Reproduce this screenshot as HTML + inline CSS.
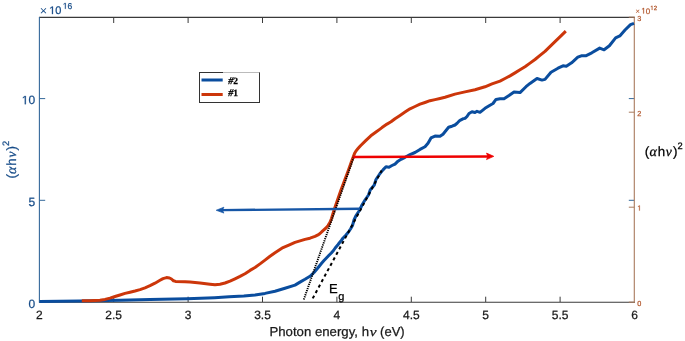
<!DOCTYPE html>
<html><head><meta charset="utf-8"><style>
html,body{margin:0;padding:0;background:#fff;}
svg{display:block;font-family:"Liberation Sans",sans-serif;will-change:transform;text-rendering:geometricPrecision;filter:blur(0.3px);}
</style></head><body>
<svg width="685" height="341" viewBox="0 0 685 341">
<rect width="685" height="341" fill="#fff"/>
<line x1="39" y1="17.4" x2="635" y2="17.4" stroke="#3a3a3a" stroke-width="1.1"/>
<line x1="39" y1="302.3" x2="635" y2="302.3" stroke="#3a3a3a" stroke-width="1.1"/>
<text x="39.3" y="319.4" font-size="12" text-anchor="middle" fill="#1a1a1a" stroke="#1a1a1a" stroke-width="0.25">2</text>
<line x1="113.70" y1="302" x2="113.70" y2="296.7" stroke="#3a3a3a" stroke-width="1"/>
<line x1="113.70" y1="17.8" x2="113.70" y2="23" stroke="#3a3a3a" stroke-width="1"/>
<text x="113.7" y="319.4" font-size="12" text-anchor="middle" fill="#1a1a1a" stroke="#1a1a1a" stroke-width="0.25">2.5</text>
<line x1="188.10" y1="302" x2="188.10" y2="296.7" stroke="#3a3a3a" stroke-width="1"/>
<line x1="188.10" y1="17.8" x2="188.10" y2="23" stroke="#3a3a3a" stroke-width="1"/>
<text x="188.1" y="319.4" font-size="12" text-anchor="middle" fill="#1a1a1a" stroke="#1a1a1a" stroke-width="0.25">3</text>
<line x1="262.50" y1="302" x2="262.50" y2="296.7" stroke="#3a3a3a" stroke-width="1"/>
<line x1="262.50" y1="17.8" x2="262.50" y2="23" stroke="#3a3a3a" stroke-width="1"/>
<text x="262.5" y="319.4" font-size="12" text-anchor="middle" fill="#1a1a1a" stroke="#1a1a1a" stroke-width="0.25">3.5</text>
<line x1="336.90" y1="302" x2="336.90" y2="296.7" stroke="#3a3a3a" stroke-width="1"/>
<line x1="336.90" y1="17.8" x2="336.90" y2="23" stroke="#3a3a3a" stroke-width="1"/>
<text x="336.9" y="319.4" font-size="12" text-anchor="middle" fill="#1a1a1a" stroke="#1a1a1a" stroke-width="0.25">4</text>
<line x1="411.30" y1="302" x2="411.30" y2="296.7" stroke="#3a3a3a" stroke-width="1"/>
<line x1="411.30" y1="17.8" x2="411.30" y2="23" stroke="#3a3a3a" stroke-width="1"/>
<text x="411.3" y="319.4" font-size="12" text-anchor="middle" fill="#1a1a1a" stroke="#1a1a1a" stroke-width="0.25">4.5</text>
<line x1="485.70" y1="302" x2="485.70" y2="296.7" stroke="#3a3a3a" stroke-width="1"/>
<line x1="485.70" y1="17.8" x2="485.70" y2="23" stroke="#3a3a3a" stroke-width="1"/>
<text x="485.7" y="319.4" font-size="12" text-anchor="middle" fill="#1a1a1a" stroke="#1a1a1a" stroke-width="0.25">5</text>
<line x1="560.10" y1="302" x2="560.10" y2="296.7" stroke="#3a3a3a" stroke-width="1"/>
<line x1="560.10" y1="17.8" x2="560.10" y2="23" stroke="#3a3a3a" stroke-width="1"/>
<text x="560.1" y="319.4" font-size="12" text-anchor="middle" fill="#1a1a1a" stroke="#1a1a1a" stroke-width="0.25">5.5</text>
<text x="634.5" y="319.4" font-size="12" text-anchor="middle" fill="#1a1a1a" stroke="#1a1a1a" stroke-width="0.25">6</text>
<line x1="39.4" y1="17" x2="39.4" y2="302.8" stroke="#34689a" stroke-width="1.1"/>
<text x="28.43" y="307.60" font-size="12" fill="#174c88" stroke="#174c88" stroke-width="0.25">0</text>
<line x1="39.5" y1="200.30" x2="45.2" y2="200.30" stroke="#34689a" stroke-width="1"/>
<line x1="628.8" y1="200.30" x2="634.3" y2="200.30" stroke="#34689a" stroke-width="1"/>
<text x="28.43" y="205.90" font-size="12" fill="#174c88" stroke="#174c88" stroke-width="0.25">5</text>
<line x1="39.5" y1="98.60" x2="45.2" y2="98.60" stroke="#34689a" stroke-width="1"/>
<line x1="628.8" y1="98.60" x2="634.3" y2="98.60" stroke="#34689a" stroke-width="1"/>
<path transform="translate(21.76,104.20) scale(0.00586,-0.00586)" d="M515,0 L515,1237 L197,1010 L197,1180 L530,1409 L696,1409 L696,0 Z" fill="#174c88" stroke="#174c88" stroke-width="42.7"/><text x="28.43" y="104.20" font-size="12" fill="#174c88" stroke="#174c88" stroke-width="0.25">0</text>
<line x1="634.3" y1="17" x2="634.3" y2="302.8" stroke="#a97a5e" stroke-width="1.1"/>
<line x1="628.8" y1="302.20" x2="634.3" y2="302.20" stroke="#a97a5e" stroke-width="1"/>
<text x="637.30" y="305.60" font-size="7.3" fill="#b45a30" stroke="#b45a30" stroke-width="0.25">0</text>
<line x1="628.8" y1="207.20" x2="634.3" y2="207.20" stroke="#a97a5e" stroke-width="1"/>
<path transform="translate(637.30,210.60) scale(0.00356,-0.00356)" d="M515,0 L515,1237 L197,1010 L197,1180 L530,1409 L696,1409 L696,0 Z" fill="#b45a30" stroke="#b45a30" stroke-width="70.1"/>
<line x1="628.8" y1="112.20" x2="634.3" y2="112.20" stroke="#a97a5e" stroke-width="1"/>
<text x="637.30" y="115.60" font-size="7.3" fill="#b45a30" stroke="#b45a30" stroke-width="0.25">2</text>
<line x1="628.8" y1="17.20" x2="634.3" y2="17.20" stroke="#a97a5e" stroke-width="1"/>
<text x="637.30" y="20.60" font-size="7.3" fill="#b45a30" stroke="#b45a30" stroke-width="0.25">3</text>
<polyline points="39.5,301.4 80.0,301.0 120.0,300.3 150.0,299.6 187.0,298.8 214.6,297.7 229.2,296.8 243.8,295.9 255.0,294.9 265.0,293.4 275.0,291.2 285.0,288.2 295.0,285.1 300.0,282.1 305.0,279.3 310.0,276.3 314.0,272.5 317.6,268.2 321.6,263.2 324.0,260.5 326.4,258.0 329.0,255.3 331.3,253.0 333.5,250.5 335.2,248.0 337.5,245.3 339.2,243.0 341.3,240.5 343.1,238.0 346.0,235.0 348.5,232.0 350.5,229.0 352.5,225.5 354.0,220.0 356.1,215.5 359.7,210.0 362.0,205.0 365.0,200.0 368.5,195.0 370.2,190.0 374.3,185.0 376.0,179.5 380.0,173.5 383.0,169.9 386.0,166.8 389.0,167.2 392.0,165.5 395.0,164.1 398.0,161.2 401.0,159.3 405.0,157.3 410.0,154.6 415.0,152.5 420.0,149.4 425.0,146.7 428.0,143.2 431.0,137.9 435.0,136.1 440.0,136.3 443.0,134.2 446.0,130.5 448.6,127.3 452.0,126.2 455.0,125.0 457.5,122.8 460.0,120.3 463.0,118.8 465.0,118.4 467.0,116.5 469.0,113.5 472.0,111.8 475.0,112.5 477.0,111.3 480.0,112.3 485.0,108.3 490.0,105.2 493.0,103.5 496.0,99.4 500.0,98.8 504.0,98.8 509.0,95.6 514.0,92.1 520.0,92.6 526.0,86.7 530.0,83.4 537.0,78.5 542.0,80.1 545.0,79.4 551.0,72.2 558.0,68.2 563.0,65.8 566.3,66.3 571.6,62.8 577.8,57.2 581.3,55.8 585.7,55.8 591.8,52.8 599.7,48.1 604.1,49.8 609.4,45.8 615.6,37.9 619.8,35.9 625.0,30.0 630.5,24.6 634.0,23.3" fill="none" stroke="#0a4d9e" stroke-width="3.0" stroke-linejoin="round" stroke-linecap="butt"/>
<polyline points="81.8,300.8 90.0,300.8 100.0,300.3 105.0,299.4 110.0,298.1 115.0,296.5 120.0,295.0 125.0,293.4 130.0,292.2 135.0,291.0 140.0,289.6 145.0,287.8 150.0,285.7 155.0,283.2 160.0,280.3 163.0,278.6 166.5,277.6 169.5,278.0 171.5,279.0 173.5,280.8 175.5,281.4 185.0,281.7 190.0,282.1 200.0,282.9 210.0,284.2 215.0,284.8 220.0,284.2 225.0,283.0 230.0,281.1 235.0,278.8 240.0,276.4 245.0,273.7 250.0,270.4 255.0,267.5 260.0,263.9 265.0,260.1 270.0,256.3 275.0,252.8 283.0,247.6 290.0,244.6 295.0,242.4 300.0,240.9 305.0,239.4 310.0,238.2 315.0,236.4 318.0,234.9 320.0,233.5 323.0,230.6 326.0,228.0 328.0,225.6 330.0,222.3 331.5,218.5 334.4,209.0 340.8,190.5 348.5,170.0 351.5,161.5 353.4,156.5 354.8,152.9 356.0,150.9 358.0,148.6 360.5,145.7 365.7,140.6 370.8,135.8 376.0,132.0 380.0,129.1 382.0,127.6 387.0,124.1 391.0,121.8 395.0,118.7 400.0,115.4 405.0,112.1 410.0,108.8 415.0,106.5 420.0,104.2 425.0,102.5 430.0,100.7 435.0,99.6 440.0,98.5 445.0,97.3 455.0,94.1 465.0,91.9 475.0,89.7 485.0,86.8 492.0,83.9 500.0,81.1 505.0,78.5 510.0,75.9 515.0,72.9 520.0,69.8 525.0,66.7 530.0,63.1 535.0,59.5 540.0,55.4 545.0,51.4 551.4,45.2 560.2,36.7 565.8,31.1" fill="none" stroke="#cc360a" stroke-width="3.0" stroke-linejoin="round" stroke-linecap="butt"/>
<line x1="303.8" y1="299.5" x2="354.2" y2="156" stroke="#000" stroke-width="1.9" stroke-dasharray="1.25 0.95"/>
<line x1="312.7" y1="298.4" x2="381.7" y2="170.5" stroke="#000" stroke-width="2" stroke-dasharray="3.1 3.1"/>
<line x1="360" y1="208.8" x2="222" y2="210.15" stroke="#1656a6" stroke-width="2.4"/>
<path d="M216.2,210.25 L223.9,207.2 L222.4,210.2 L223.9,213.1 Z" fill="#1656a6" stroke="#1656a6" stroke-width="0.7" stroke-linejoin="round"/>
<line x1="353.2" y1="157.1" x2="488" y2="156.4" stroke="#ee0000" stroke-width="2.5"/>
<path d="M493.8,156.35 L486.5,153.1 L487.9,156.4 L486.5,159.6 Z" fill="#ee0000" stroke="#ee0000" stroke-width="0.7" stroke-linejoin="round"/>
<text x="39.7" y="15.2" font-size="12.7" fill="#174c88" stroke-width="0" stroke="#174c88">×</text>
<path transform="translate(49.20,14.10) scale(0.00537,-0.00537)" d="M515,0 L515,1237 L197,1010 L197,1180 L530,1409 L696,1409 L696,0 Z" fill="#174c88" stroke="#174c88" stroke-width="46.5"/><text x="55.32" y="14.10" font-size="11" fill="#174c88" stroke="#174c88" stroke-width="0.25">0</text>
<path transform="translate(62.80,8.80) scale(0.00415,-0.00415)" d="M515,0 L515,1237 L197,1010 L197,1180 L530,1409 L696,1409 L696,0 Z" fill="#174c88" stroke="#174c88" stroke-width="60.2"/><text x="67.53" y="8.80" font-size="8.5" fill="#174c88" stroke="#174c88" stroke-width="0.25">6</text>
<text x="635.2" y="14.1" font-size="8.2" fill="#b45a30" stroke-width="0" stroke="#b45a30">×</text>
<path transform="translate(641.30,13.50) scale(0.00391,-0.00391)" d="M515,0 L515,1237 L197,1010 L197,1180 L530,1409 L696,1409 L696,0 Z" fill="#b45a30" stroke="#b45a30" stroke-width="64.0"/><text x="645.75" y="13.50" font-size="8.0" fill="#b45a30" stroke="#b45a30" stroke-width="0.25">0</text>
<path transform="translate(650.30,10.00) scale(0.00293,-0.00293)" d="M515,0 L515,1237 L197,1010 L197,1180 L530,1409 L696,1409 L696,0 Z" fill="#b45a30" stroke="#b45a30" stroke-width="85.3"/><text x="653.64" y="10.00" font-size="6.0" fill="#b45a30" stroke="#b45a30" stroke-width="0.25">2</text>
<text x="269.4" y="335.7" font-size="13" textLength="99.6" lengthAdjust="spacingAndGlyphs" fill="#1a1a1a" stroke="#1a1a1a" stroke-width="0.25">Photon energy, h</text>
<text transform="translate(369.7,335.7) scale(1.18,1)" font-size="13" font-family="Liberation Serif" font-style="italic" fill="#1a1a1a" stroke="#1a1a1a" stroke-width="0.25">ν</text>
<text x="380.1" y="335.7" font-size="13" fill="#1a1a1a" stroke="#1a1a1a" stroke-width="0.25">(eV)</text>
<g transform="translate(15.8,177.8) rotate(-90)"><text x="-0.8" y="0" font-size="13.5" fill="#174c88" stroke="#174c88" stroke-width="0.25">(</text><text x="3.9" y="0" font-size="14" font-family="Liberation Serif" font-style="italic" fill="#174c88" stroke="#174c88" stroke-width="0.25">α</text><text x="12.1" y="0" font-size="13.3" fill="#174c88" stroke="#174c88" stroke-width="0.25">h</text><text x="20.2" y="0" font-size="13.5" font-family="Liberation Serif" font-style="italic" fill="#174c88" stroke="#174c88" stroke-width="0.25">ν</text><text x="27.4" y="0" font-size="13.5" fill="#174c88" stroke="#174c88" stroke-width="0.25">)</text><text x="31.8" y="-7.0" font-size="9.3" fill="#174c88" stroke="#174c88" stroke-width="0.25">2</text></g>
<g transform="translate(645.6,156)"><text x="-0.8" y="0" font-size="13.5" fill="#000" stroke="#000" stroke-width="0.25">(</text><text x="3.9" y="0" font-size="14" font-family="Liberation Serif" font-style="italic" fill="#000" stroke="#000" stroke-width="0.25">α</text><text x="12.1" y="0" font-size="13.3" fill="#000" stroke="#000" stroke-width="0.25">h</text><text x="20.2" y="0" font-size="13.5" font-family="Liberation Serif" font-style="italic" fill="#000" stroke="#000" stroke-width="0.25">ν</text><text x="27.4" y="0" font-size="13.5" fill="#000" stroke="#000" stroke-width="0.25">)</text><text x="31.8" y="-7.0" font-size="9.3" fill="#000" stroke="#000" stroke-width="0.25">2</text></g>
<text x="329" y="293" font-size="13" fill="#000" stroke="#000" stroke-width="0.25">E</text>
<text x="338.3" y="299.6" font-size="11" fill="#000" stroke="#000" stroke-width="0.25">g</text>
<rect x="199.5" y="72.5" width="60" height="30" fill="#fff" stroke="#333" stroke-width="1"/>
<line x1="223" y1="72.5" x2="259.5" y2="72.5" stroke="#bbb" stroke-width="1"/>
<line x1="201.5" y1="80" x2="222.7" y2="80" stroke="#0a4d9e" stroke-width="3"/>
<line x1="201.5" y1="94.5" x2="222.7" y2="94.5" stroke="#cc360a" stroke-width="3"/>
<text x="228.2" y="84.1" font-size="9.5" font-family="Liberation Serif" font-weight="bold" fill="#000" stroke="#000" stroke-width="0.25"><tspan font-style="italic" font-size="10.3">#</tspan>2</text>
<text x="228.2" y="95.8" font-size="9.5" font-family="Liberation Serif" font-weight="bold" fill="#000" stroke="#000" stroke-width="0.25"><tspan font-style="italic" font-size="10.3">#</tspan>1</text>
</svg>
</body></html>
